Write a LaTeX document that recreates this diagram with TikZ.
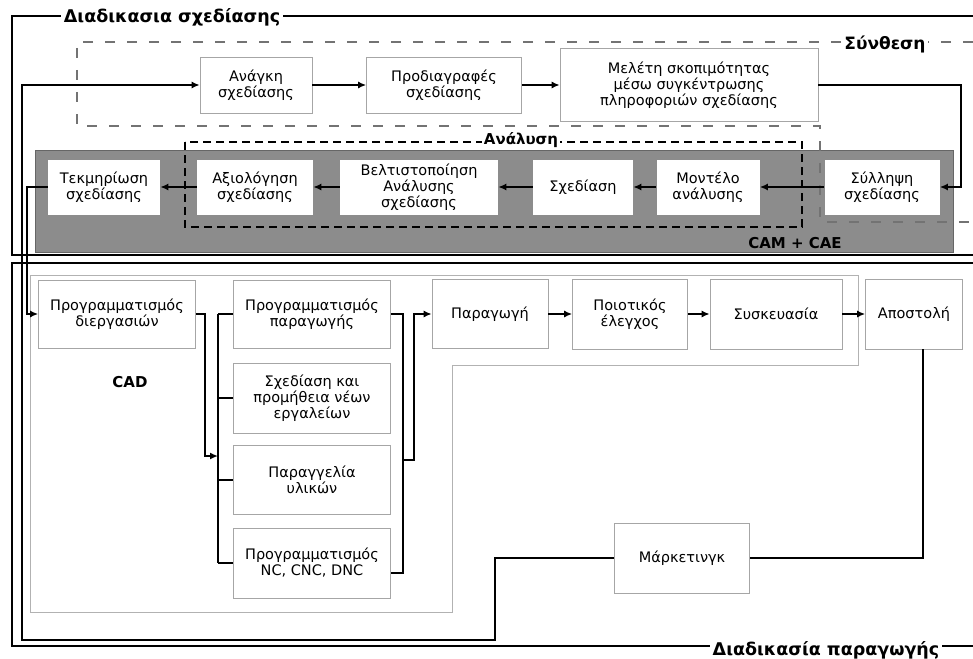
\documentclass[tikz,border=0pt]{standalone}
\usepackage{fontspec}
\setmainfont{DejaVu Sans}
\usetikzlibrary{arrows.meta}

\tikzset{
  kasten/.style={draw=gray!70, line width=0.6pt, fill=white, align=center, inner sep=2pt,
    font=\fontsize{14.5}{16}\selectfont},
  wkasten/.style={kasten, draw=none},
  verb/.style={line width=1.6pt},
  pfeil/.style={verb, -{Latex[length=8pt,width=7pt]}},
  rahmen/.style={line width=1.8pt},
  titel/.style={font=\fontsize{17.5}{20}\selectfont\bfseries, fill=white, inner sep=3pt},
  ztitel/.style={font=\fontsize{15}{18}\selectfont\bfseries, inner sep=2pt},
}

\begin{document}
\begin{tikzpicture}[x=1pt, y=-1pt]
	\useasboundingbox (0,0) rectangle (973,658);

	% Rahmen Entwurf / Produktion
	\draw[rahmen] (973,16) -- (12,16) -- (12,255) -- (973,255);
	\draw[rahmen] (973,263) -- (12,263) -- (12,646) -- (973,646);
	\node[titel] at (172,17) {Διαδικασια σχεδίασης};
	\node[titel] at (826,650) {Διαδικασία παραγωγής};

	% grauer Streifen CAM + CAE
	\fill[black!45] (35,150) rectangle (953,252);
	\draw[black!60, line width=1pt] (35,150) rectangle (953,252);
	\node[ztitel] at (795,243) {CAM + CAE};

	% Synthese und Analyse (gestrichelt)
	\draw[black!55, line width=1.4pt, dash pattern=on 10pt off 12pt]
		(973,42) -- (77,42) -- (77,126) -- (820,126) -- (820,222) -- (973,222);
	\node[ztitel, fill=white, font=\fontsize{17}{20}\selectfont\bfseries] at (885,44) {Σύνθεση};
	\draw[line width=1.6pt, dash pattern=on 8pt off 5pt] (185,142) rectangle (802,227);
	\node[ztitel, fill=white] at (521,140) {Ανάλυση};

	% CAD-Bereich
	\draw[gray!60, line width=0.7pt] (30,275) -- (858,275) -- (858,365) -- (452,365)
		-- (452,612) -- (30,612) -- cycle;
	\node[ztitel] at (130,382) {CAD};

	% obere Reihe
	\node[kasten, minimum width=112pt, minimum height=56pt] (anagki) at (256,85) {Ανάγκη\\σχεδίασης};
	\node[kasten, minimum width=155pt, minimum height=56pt] (prodiagr) at (444,85) {Προδιαγραφές\\σχεδίασης};
	\node[kasten, minimum width=258pt, minimum height=73pt] (melete) at (689,85)
		{Μελέτη σκοπιμότητας\\μέσω συγκέντρωσης\\πληροφοριών σχεδίασης};

	% Reihe im Streifen
	\node[wkasten, minimum width=112pt, minimum height=55pt] (tekm) at (104,187) {Τεκμηρίωση\\σχεδίασης};
	\node[wkasten, minimum width=116pt, minimum height=55pt] (axiol) at (255,187) {Αξιολόγηση\\σχεδίασης};
	\node[wkasten, minimum width=158pt, minimum height=55pt] (beltist) at (419,187)
		{Βελτιστοποίηση\\Ανάλυσης\\σχεδίασης};
	\node[wkasten, minimum width=100pt, minimum height=55pt] (sxediasi) at (583,187) {Σχεδίαση};
	\node[wkasten, minimum width=103pt, minimum height=55pt] (montelo) at (708,187) {Μοντέλο\\ανάλυσης};
	\node[wkasten, minimum width=115pt, minimum height=55pt] (syllipsi) at (882,187) {Σύλληψη\\σχεδίασης};

	% Produktion
	\node[kasten, minimum width=157pt, minimum height=68pt] (diergasion) at (117,314) {Προγραμματισμός\\διεργασιών};
	\node[kasten, minimum width=157pt, minimum height=68pt] (progpar) at (312,314) {Προγραμματισμός\\παραγωγής};
	\node[kasten, minimum width=157pt, minimum height=70pt] (ergaleia) at (312,398)
		{Σχεδίαση και\\προμήθεια νέων\\εργαλείων};
	\node[kasten, minimum width=157pt, minimum height=69pt] (ylika) at (312,480) {Παραγγελία\\υλικών};
	\node[kasten, minimum width=157pt, minimum height=70pt] (nc) at (312,563) {Προγραμματισμός\\NC, CNC, DNC};
	\node[kasten, minimum width=116pt, minimum height=69pt] (paragogi) at (490,314) {Παραγωγή};
	\node[kasten, minimum width=115pt, minimum height=70pt] (poiotikos) at (630,314) {Ποιοτικός\\έλεγχος};
	\node[kasten, minimum width=132pt, minimum height=70pt] (syskeuasia) at (776,314) {Συσκευασία};
	\node[kasten, minimum width=97pt, minimum height=70pt] (apostoli) at (914,314) {Αποστολή};
	\node[kasten, minimum width=135pt, minimum height=70pt] (marketing) at (682,558) {Μάρκετινγκ};

	% Hilfspunkte
	\coordinate (kr) at (961,0);
	\coordinate (kl) at (27,0);
	\coordinate (busL) at (218,0);
	\coordinate (busR) at (403,0);
	\coordinate (kd) at (205,456);
	\coordinate (kp) at (414,460);
	\coordinate (ku) at (495,640);
	\coordinate (kv) at (22,640);
	\coordinate (ncR) at ([yshift=-10pt]nc.east);

	% Verbindungen Entwurf
	\draw[pfeil] (anagki) -- (prodiagr);
	\draw[pfeil] (prodiagr) -- (melete);
	\draw[pfeil] (melete.east) -| (kr |- syllipsi.east) -- (syllipsi.east);
	\draw[pfeil] (syllipsi) -- (montelo);
	\draw[pfeil] (montelo) -- (sxediasi);
	\draw[pfeil] (sxediasi) -- (beltist);
	\draw[pfeil] (beltist) -- (axiol);
	\draw[pfeil] (axiol) -- (tekm);
	\draw[pfeil] (tekm.west) -| (kl |- diergasion.west) -- (diergasion.west);

	% Verbindungen Produktion
	\draw[pfeil] (diergasion.east) -| (kd) -- (busL |- kd);
	\draw[verb] (busL |- progpar.west) -- (busL |- nc.west);
	\foreach \n in {progpar, ergaleia, ylika, nc}
		\draw[verb] (busL |- \n.west) -- (\n.west);
	\draw[verb] (progpar.east) -| (busR |- ncR) -- (ncR);
	\draw[pfeil] (busR |- kp) -- (kp) |- (paragogi.west);
	\draw[pfeil] (paragogi) -- (poiotikos);
	\draw[pfeil] (poiotikos) -- (syskeuasia);
	\draw[pfeil] (syskeuasia) -- (apostoli);
	\draw[verb] ([xshift=9pt]apostoli.south) |- (marketing.east);
	\draw[pfeil] (marketing.west) -| (ku) -- (kv) |- (anagki.west);
\end{tikzpicture}
\end{document}
